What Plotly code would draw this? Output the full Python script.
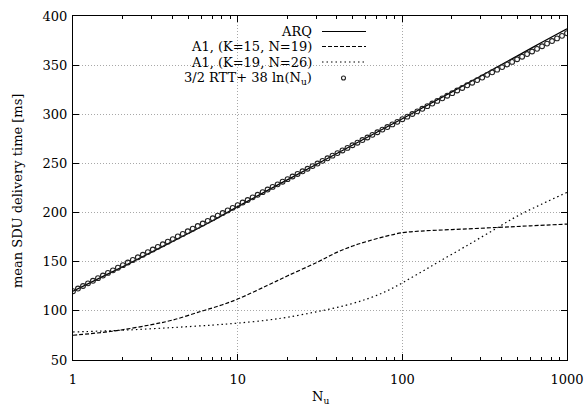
import plotly.graph_objects as go

# ---------------- data ----------------
arq_x = [1, 1.5, 2, 3, 5, 7, 10, 20, 50, 100, 200, 300, 500, 700, 1000]
arq_y = [120, 134.6, 144.8, 159.7, 178.7, 191.4, 206, 233.3, 268.7, 295.5, 322.8, 339, 359.5, 373, 387]

k15_x = [1, 1.5, 2, 3, 4, 6, 8, 10, 15, 20, 30, 40, 50, 62, 80, 100, 130, 200, 373, 600, 1000]
k15_y = [75.2, 78, 80.8, 86, 90.5, 99.5, 106, 112, 125.5, 135.5, 149, 159.5, 166, 171, 176, 179.5,
         181.2, 182.7, 184.8, 186.5, 188.3]

k19_x = [1, 2, 4, 7, 10, 15, 20, 30, 45, 62, 80, 100, 130, 167, 250, 373, 494, 700, 1000]
k19_y = [78.5, 80.3, 83, 85.5, 87.5, 90.5, 93.5, 99, 105.5, 112.5, 120, 128.5, 139.5, 150, 167,
         184, 196, 208.5, 220.5]

fit_x = [1, 1.072, 1.150, 1.233, 1.322, 1.418, 1.520, 1.630, 1.748, 1.874,
         2.009, 2.154, 2.310, 2.477, 2.656, 2.848, 3.054, 3.275, 3.511, 3.765,
         4.037, 4.329, 4.642, 4.977, 5.337, 5.722, 6.136, 6.579, 7.055, 7.565,
         8.111, 8.697, 9.326, 10.0, 10.72, 11.50, 12.33, 13.22, 14.18, 15.20,
         16.30, 17.48, 18.74, 20.09, 21.54, 23.10, 24.77, 26.56, 28.48, 30.54,
         32.75, 35.11, 37.65, 40.37, 43.29, 46.42, 49.77, 53.37, 57.22, 61.36,
         65.79, 70.55, 75.65, 81.11, 86.97, 93.26, 100.0, 107.2, 115.0, 123.3,
         132.2, 141.8, 152.0, 163.0, 174.8, 187.4, 200.9, 215.4, 231.0, 247.7,
         265.6, 284.8, 305.4, 327.5, 351.1, 376.5, 403.7, 432.9, 464.2, 497.7,
         533.7, 572.2, 613.6, 657.9, 705.5, 756.5, 811.1, 869.7, 932.6, 1000.0]
fit_y = [120.0, 122.7, 125.3, 128.0, 130.6, 133.3, 135.9, 138.6, 141.2, 143.9,
         146.5, 149.2, 151.8, 154.5, 157.1, 159.8, 162.4, 165.1, 167.7, 170.4,
         173.0, 175.7, 178.3, 181.0, 183.6, 186.3, 188.9, 191.6, 194.2, 196.9,
         199.5, 202.2, 204.8, 207.5, 210.2, 212.8, 215.5, 218.1, 220.8, 223.4,
         226.1, 228.7, 231.4, 234.0, 236.7, 239.3, 242.0, 244.6, 247.3, 249.9,
         252.6, 255.2, 257.9, 260.5, 263.2, 265.8, 268.5, 271.1, 273.8, 276.4,
         279.1, 281.7, 284.4, 287.0, 289.7, 292.3, 295.0, 297.6, 300.3, 303.0,
         305.6, 308.3, 310.9, 313.6, 316.2, 318.9, 321.5, 324.2, 326.8, 329.5,
         332.1, 334.8, 337.4, 340.1, 342.7, 345.4, 348.0, 350.7, 353.3, 356.0,
         358.6, 361.3, 363.9, 366.6, 369.2, 371.9, 374.5, 377.2, 379.8, 382.5]

legend_labels = ["ARQ", "A1, (K=15, N=19)", "A1, (K=19, N=26)",
                 "3/2 RTT+ 38 ln(N<sub>u</sub>)"]
x_ticks = [1, 10, 100, 1000]
x_minor = [2, 3, 4, 5, 6, 7, 8, 9, 20, 30, 40, 50, 60, 70, 80, 90,
           200, 300, 400, 500, 600, 700, 800, 900]
y_ticks = [50, 100, 150, 200, 250, 300, 350, 400]

FONT = "DejaVu Serif"
FS = 13

fig = go.Figure()
fig.add_trace(go.Scatter(x=arq_x, y=arq_y, mode="lines", line_shape="spline",
                         line=dict(color="black", width=1.3), name=legend_labels[0]))
fig.add_trace(go.Scatter(x=k15_x, y=k15_y, mode="lines", line_shape="spline",
                         line=dict(color="black", width=1.2, dash="4px,2px"), name=legend_labels[1]))
fig.add_trace(go.Scatter(x=k19_x, y=k19_y, mode="lines", line_shape="spline",
                         line=dict(color="black", width=1.2, dash="1.5px,3px"), name=legend_labels[2]))
fig.add_trace(go.Scatter(x=fit_x, y=fit_y, mode="markers",
                         marker=dict(symbol="circle-open", size=4.8, color="#222",
                                     line=dict(width=1.1, color="#222")),
                         name=legend_labels[3]))

L, R, T, B = 73, 19, 16, 50
W, H = 586, 410
pw, ph = W - L - R, H - T - B

def px(x):
    return (x - L) / pw

def py(y):
    return (H - B - y) / ph

shapes = []
# opaque legend box (covers grid lines, below traces)
shapes.append(dict(type="rect", xref="paper", yref="paper", layer="between",
                   x0=px(76), x1=px(376), y0=py(87), y1=py(17),
                   fillcolor="white", line=dict(width=0)))
rows = [31.5, 46.5, 62, 78]
dashes = ["solid", "4px,2px", "1.5px,3px"]
for r, d in zip(rows[:3], dashes):
    shapes.append(dict(type="line", xref="paper", yref="paper",
                       x0=px(322), x1=px(366), y0=py(r), y1=py(r),
                       line=dict(color="black", width=1.2, dash=d)))
cx, cy = 343.5, rows[3]
shapes.append(dict(type="circle", xref="paper", yref="paper",
                   x0=px(cx - 2), x1=px(cx + 2), y0=py(cy + 2), y1=py(cy - 2),
                   line=dict(color="#222", width=1.1)))

annotations = []
for r, lab in zip(rows, legend_labels):
    annotations.append(dict(text=lab, xref="paper", yref="paper", x=px(314), y=py(r),
                            xanchor="right", yanchor="middle", showarrow=False,
                            font=dict(family=FONT, size=FS, color="black")))
annotations.append(dict(text="N<sub>u</sub>", xref="paper", yref="paper",
                        x=px(320), y=py(397), xanchor="center", yanchor="middle",
                        showarrow=False, font=dict(family=FONT, size=FS, color="black")))
annotations.append(dict(text="mean SDU delivery time [ms]", xref="paper", yref="paper",
                        x=px(17), y=py(191), xanchor="center", yanchor="middle",
                        textangle=-90, showarrow=False,
                        font=dict(family=FONT, size=FS, color="black")))

axis_common = dict(showline=True, linecolor="black", linewidth=1, mirror="ticks",
                   ticks="inside", ticklen=6, tickcolor="black", tickwidth=1,
                   showgrid=True, gridcolor="#a8a8a8", griddash="1px,2px", gridwidth=1,
                   zeroline=False, tickfont=dict(family=FONT, size=FS, color="black"))

fig.update_layout(
    width=W, height=H, autosize=False,
    margin=dict(l=L, r=R, t=T, b=B, autoexpand=False),
    paper_bgcolor="white", plot_bgcolor="white",
    showlegend=False,
    shapes=shapes, annotations=annotations,
    xaxis=dict(type="log", range=[0, 3], tickvals=x_ticks,
               ticktext=[str(v) for v in x_ticks], ticklabelstandoff=7,
               minor=dict(tickvals=x_minor, ticks="inside", ticklen=3,
                          tickcolor="black", showgrid=False),
               **axis_common),
    yaxis=dict(range=[50, 400], tickvals=y_ticks, ticklabelstandoff=2, **axis_common),
)

fig.write_html("out.html", config={"displayModeBar": False},
               post_script="document.body.style.margin='0';document.body.style.overflow='hidden';")
